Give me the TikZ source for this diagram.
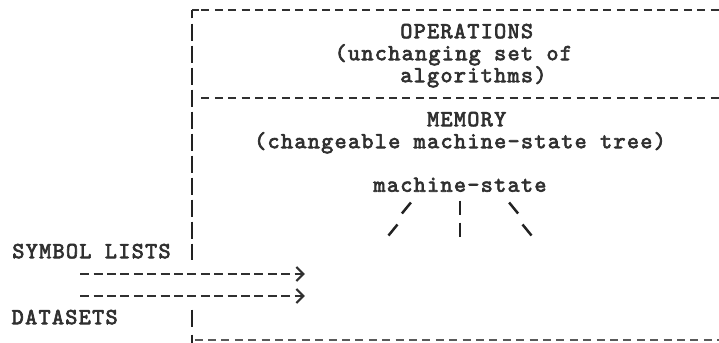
\documentclass[tikz,border=0pt]{standalone}
\usepackage{fontspec}
\setmonofont{lmmono10-regular.otf}[LetterSpace=5.8,FakeBold=3]
\usetikzlibrary{arrows.meta}
\definecolor{ink}{RGB}{48,48,48}
\definecolor{darkink}{RGB}{34,34,34}
\definecolor{softink}{RGB}{90,90,90}

\begin{document}
\begin{tikzpicture}[
  % one typewriter column = 13.4pt, one typed line = 22pt (rows run downward)
  x=13.4pt, y=-22pt,
  label/.style={font=\ttfamily\fontsize{23}{22}\selectfont, text=ink, inner sep=0pt, anchor=base},
  rule/.style={draw=ink, line width=1.3pt, dash pattern=on 8pt off 5.4pt},
  faintrule/.style={draw=softink, line width=1.3pt, dash pattern=on 8pt off 5.4pt},
  bar/.style={draw=darkink, line width=2.8pt},
  flow/.style={draw=ink, line width=2.3pt, dash pattern=on 9pt off 4.4pt,
    -{Straight Barb[length=7pt,width=14pt,line width=2.2pt]}},
  branch/.style={draw=darkink, line width=2.5pt}
]
\useasboundingbox (-14.328,-0.4545) rectangle (39.328,15.136);

% left frame: one bar per typed line, rows 1 to 11 and row 14
\draw[bar, dash pattern=on 17pt off 5pt] (0,0.614) -- (0,11.386);
\draw[bar] (0,13.614) -- (0,14.386);
\draw[bar] (0,0.38) -- (0,0);
\draw[bar] (0,14.75) -- (0,15.5);

% horizontal rules: top, between the two sections, bottom
\coordinate (topL) at (0.5,0);    \coordinate (topR) at (40,0);
\coordinate (midL) at (0.7015,4); \coordinate (midR) at (40,4);
\coordinate (botL) at (0.2,15);   \coordinate (botR) at (40,15);
\draw[rule] (0,0) -- (topL);
\draw[rule] (0.7015,0) -- (topR);
\draw[rule] (midL) -- (midR);
\draw[faintrule] (botL) -- (botR);

% upper section
\node[label] (ops)    at (20.5,1.28) {OPERATIONS};
\node[label] (opsa)   at (19.5,2.28) {(unchanging set of};
\node[label] (opsb)   at (21,3.28)   {algorithms)};

% lower section
\node[label] (mem)    at (20.5,5.28) {MEMORY};
\node[label] (memsub) at (20,6.28)   {(changeable machine-state tree)};
\node[label] (root)   at (20,8.26)   {machine-state};

% branches below the machine-state root
\draw[branch] (16-0.336,9+0.25) -- (16+0.336,9-0.25);
\draw[branch] (20,9-0.34) -- (20,9+0.34);
\draw[branch] (24-0.336,9-0.25) -- (24+0.336,9+0.25);
\draw[branch] (15-0.336,10+0.25) -- (15+0.336,10-0.25);
\draw[branch] (20,10-0.34) -- (20,10+0.34);
\draw[branch] (25-0.336,10-0.25) -- (25+0.336,10+0.25);

% inputs entering from the left
\node[label] (sym)  at (-7.5,11.28) {SYMBOL LISTS};
\node[label] (data) at (-9.5,14.28) {DATASETS};
\coordinate (symIn)  at (-8.336,12); \coordinate (symOut)  at (8.43,12);
\coordinate (dataIn) at (-8.336,13); \coordinate (dataOut) at (8.43,13);
\draw[flow] (symIn) -- (symOut);
\draw[flow] (dataIn) -- (dataOut);
\end{tikzpicture}
\end{document}
